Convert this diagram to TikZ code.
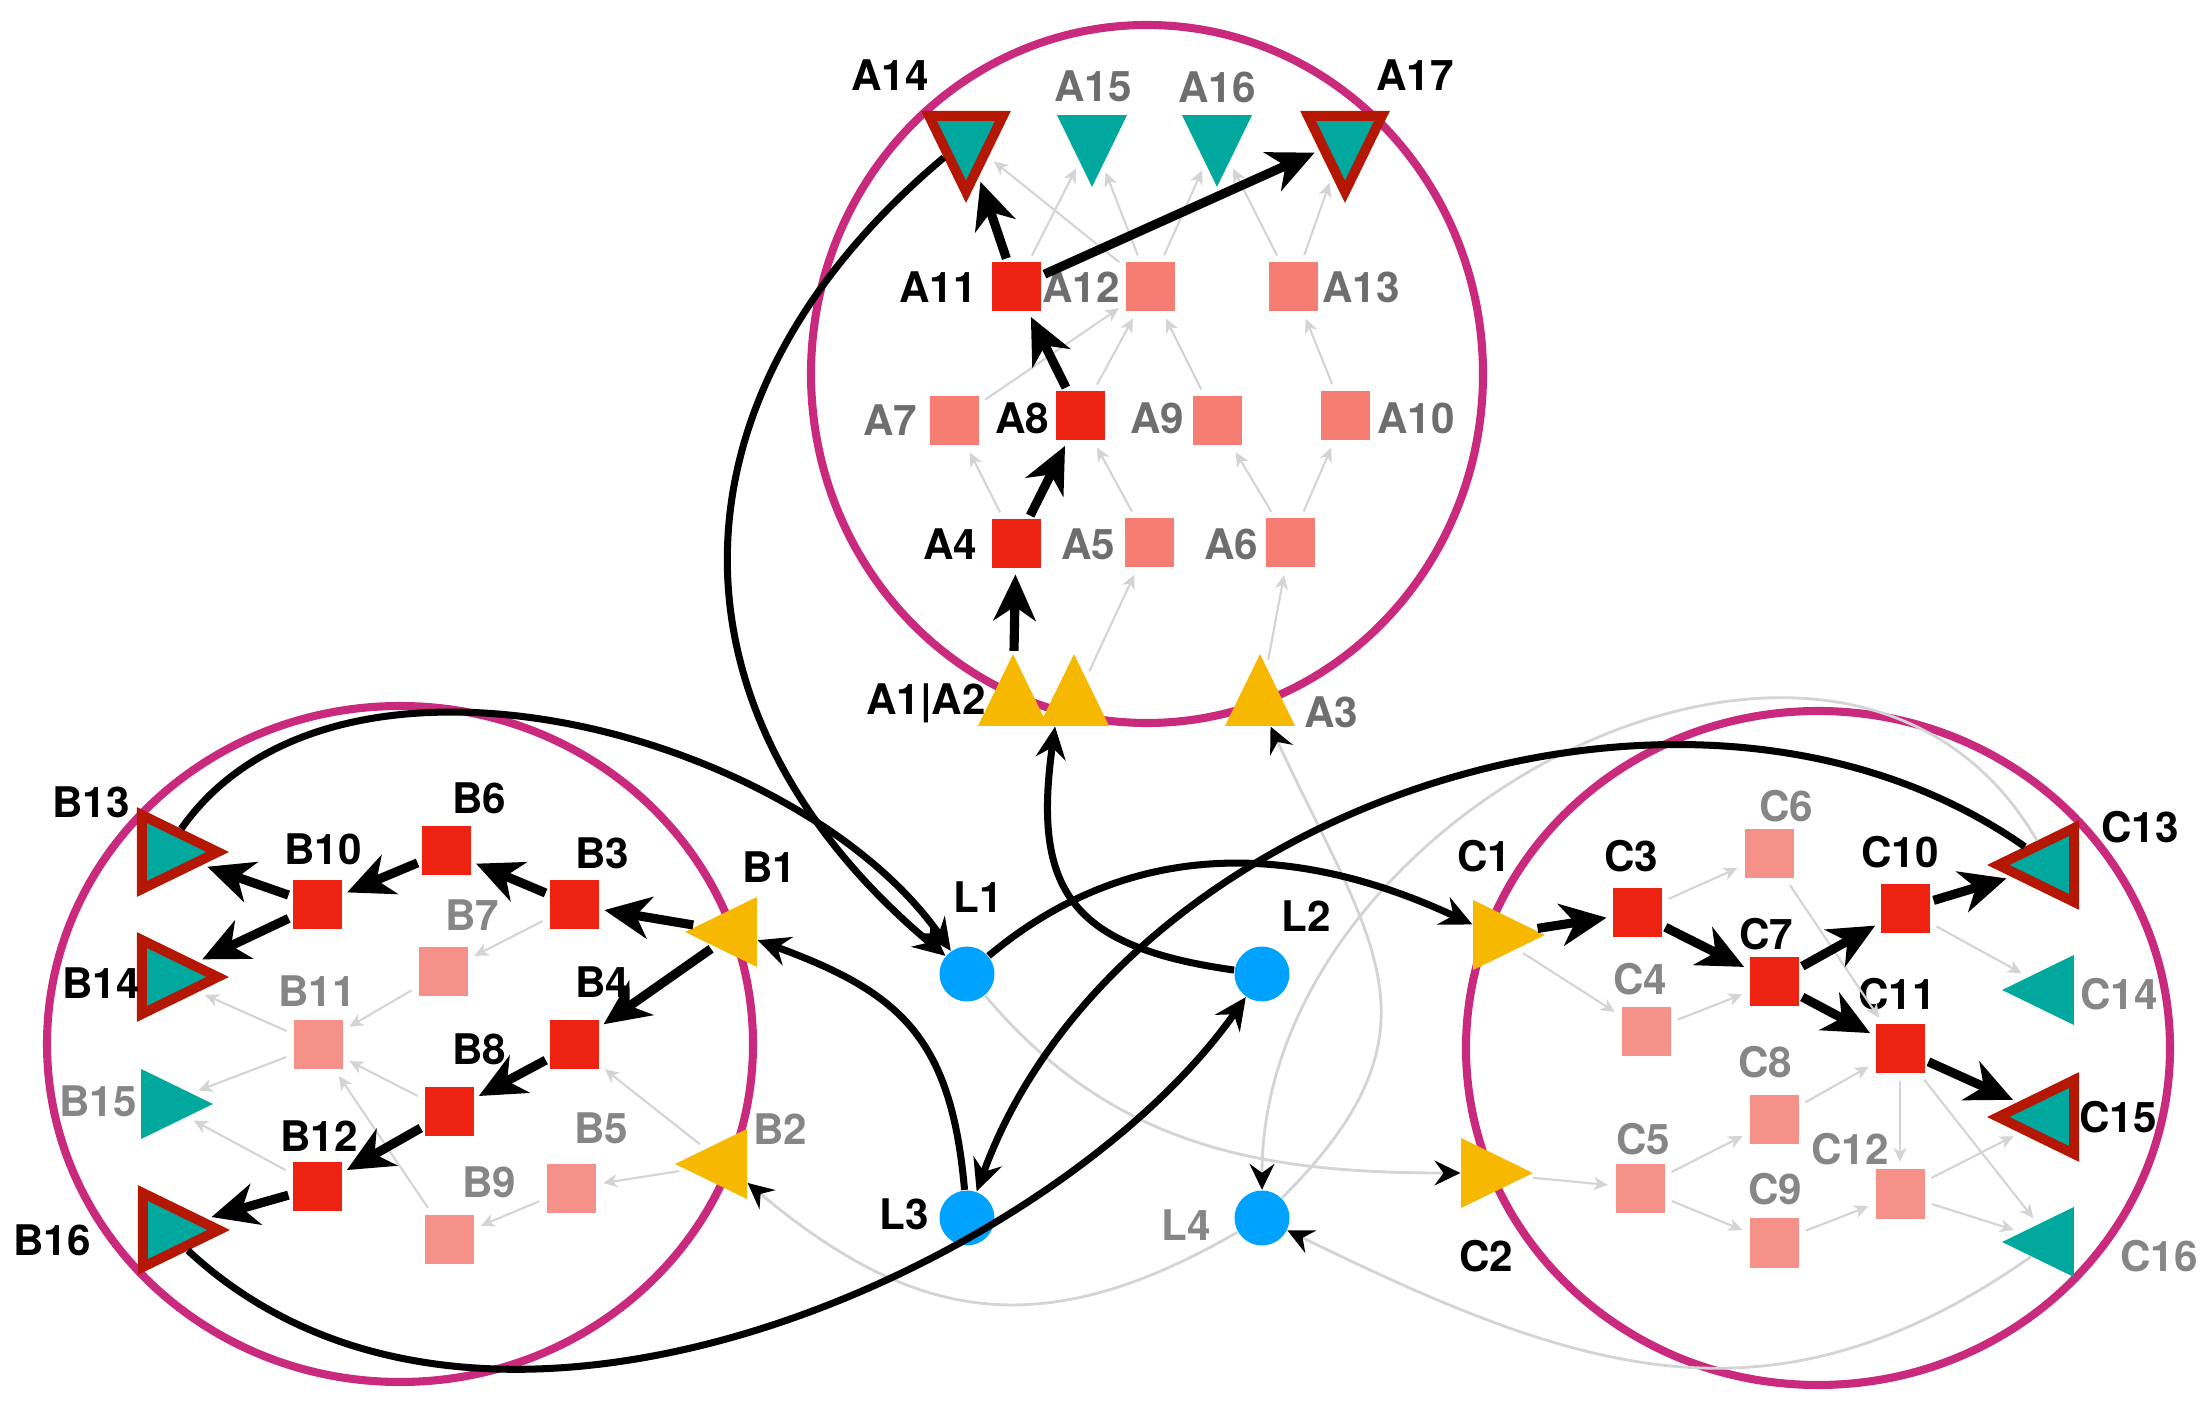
\documentclass[tikz,border=0pt]{standalone}
\usepackage{fontspec}
\setmainfont{TeX Gyre Heros}
\usetikzlibrary{shapes.geometric,arrows.meta,positioning}
\definecolor{ringpink}{RGB}{201,42,125}
\definecolor{hotred}{RGB}{238,34,17}
\definecolor{salmonA}{RGB}{245,125,114}
\definecolor{salmonB}{RGB}{246,145,138}
\definecolor{tealfill}{RGB}{0,168,157}
\definecolor{rimred}{RGB}{180,24,4}
\definecolor{ambr}{RGB}{246,184,0}
\definecolor{skyblue}{RGB}{0,162,255}
\definecolor{edgegray}{RGB}{212,212,212}
\definecolor{labgrayA}{RGB}{110,110,110}
\definecolor{labgrayB}{RGB}{134,134,134}

\tikzset{
  lab/.style={font=\fontsize{12}{14}\selectfont\bfseries, inner sep=0pt, text height=8.5pt, text depth=0pt},
  labk/.style={lab, text=black},
  laba/.style={lab, text=labgrayA},
  labb/.style={lab, text=labgrayB},
  sqon/.style={rectangle, minimum size=4.9mm, inner sep=0pt, fill=hotred},
  sqa/.style={rectangle, minimum size=4.9mm, inner sep=0pt, fill=salmonA},
  sqb/.style={rectangle, minimum size=4.9mm, inner sep=0pt, fill=salmonB},
  tri/.style={isosceles triangle, isosceles triangle apex angle=52, minimum size=7mm, inner sep=0pt},
  srctri/.style={tri, fill=ambr},
  outtri/.style={tri, fill=tealfill},
  goaltri/.style={tri, minimum size=7.4mm, fill=tealfill, draw=rimred, line width=2.8pt},
  pup/.style={shape border rotate=90},
  pdown/.style={shape border rotate=270},
  pleft/.style={shape border rotate=180},
  pright/.style={shape border rotate=0},
  loc/.style={circle, minimum size=5.5mm, inner sep=0pt, fill=skyblue},
  ring/.style={draw=ringpink, line width=2.3pt},
  weak/.style={draw=edgegray, line width=0.6pt, shorten <=2pt, shorten >=2pt, -{Stealth[length=1.4mm,width=1.3mm,inset=0.4mm]}},
  hot/.style={draw=black, line width=2.6pt, shorten <=1pt, shorten >=1.5pt, -{Stealth[length=4.6mm,width=4.2mm,inset=1.4mm]}},
  link/.style={draw=black, line width=2pt, -{Stealth[length=3.2mm,width=3mm,inset=1.1mm]}},
  faint/.style={draw=edgegray, line width=0.8pt, -{Stealth[length=2.6mm,width=2.5mm,inset=0.9mm,color=black]}}
}

\begin{document}
\begin{tikzpicture}
    \useasboundingbox (0,0) rectangle (22,14);

    % Rings
    \draw[ring] (11.47,10.26) ellipse [x radius=3.36, y radius=3.49];
    \draw[ring] (4.00,3.56) ellipse [x radius=3.53, y radius=3.38];
    \draw[ring] (18.18,3.52) ellipse [x radius=3.52, y radius=3.37];

    % Group A
    \node[goaltri,pdown] (A14) at (9.66,12.61) {};
    \node[outtri,pdown] (A15) at (10.92,12.63) {};
    \node[outtri,pdown] (A16) at (12.17,12.63) {};
    \node[goaltri,pdown] (A17) at (13.45,12.61) {};
    \node[sqon] (A11) at (10.16,11.13) {};
    \node[sqa] (A12) at (11.50,11.13) {};
    \node[sqa] (A13) at (12.93,11.13) {};
    \node[sqa] (A7) at (9.54,9.79) {};
    \node[sqon] (A8) at (10.80,9.84) {};
    \node[sqa] (A9) at (12.17,9.79) {};
    \node[sqa] (A10) at (13.45,9.84) {};
    \node[sqon] (A4) at (10.16,8.56) {};
    \node[sqa] (A5) at (11.49,8.57) {};
    \node[sqa] (A6) at (12.90,8.57) {};
    \node[srctri,pup] (A1) at (10.13,6.96) {};
    \node[srctri,pup] (A2) at (10.74,6.96) {};
    \node[srctri,pup] (A3) at (12.60,6.96) {};

    \node[labk] (tA14) at (8.90,13.24) {A14};
    \node[laba] (tA15) at (10.93,13.13) {A15};
    \node[laba] (tA16) at (12.17,13.12) {A16};
    \node[labk] (tA17) at (14.15,13.24) {A17};
    \node[labk] (tA11) at (9.38,11.12) {A11};
    \node[laba] (tA12) at (10.81,11.12) {A12};
    \node[laba] (tA13) at (13.61,11.12) {A13};
    \node[laba] (tA7) at (8.90,9.79) {A7};
    \node[labk] (tA8) at (10.22,9.81) {A8};
    \node[laba] (tA9) at (11.57,9.81) {A9};
    \node[laba] (tA10) at (14.16,9.81) {A10};
    \node[labk] (tA4) at (9.50,8.55) {A4};
    \node[laba] (tA5) at (10.88,8.55) {A5};
    \node[laba] (tA6) at (12.31,8.55) {A6};
    \node[labk] (tA12b) at (9.26,7.00) {A1|A2};
    \node[laba] (tA3) at (13.31,6.87) {A3};

    % Group B
    \node[goaltri,pright] (B13) at (1.65,5.48) {};
    \node[goaltri,pright] (B14) at (1.65,4.23) {};
    \node[outtri,pright] (B15) at (1.63,2.96) {};
    \node[goaltri,pright] (B16) at (1.66,1.70) {};
    \node[sqon] (B10) at (3.17,4.95) {};
    \node[sqon] (B6) at (4.46,5.49) {};
    \node[sqon] (B3) at (5.74,4.95) {};
    \node[sqb] (B7) at (4.43,4.28) {};
    \node[sqb] (B11) at (3.18,3.55) {};
    \node[sqon] (B4) at (5.74,3.55) {};
    \node[sqon] (B8) at (4.49,2.88) {};
    \node[sqon] (B12) at (3.17,2.13) {};
    \node[sqb] (B5) at (5.71,2.12) {};
    \node[sqb] (B9) at (4.49,1.61) {};
    \node[srctri,pleft] (B1) at (7.35,4.68) {};
    \node[srctri,pleft] (B2) at (7.25,2.36) {};

    \node[labk] (tB13) at (0.91,5.97) {B13};
    \node[labk] (tB6) at (4.79,6.01) {B6};
    \node[labk] (tB10) at (3.23,5.50) {B10};
    \node[labk] (tB3) at (6.02,5.46) {B3};
    \node[labk] (tB1) at (7.69,5.32) {B1};
    \node[labb] (tB7) at (4.72,4.84) {B7};
    \node[labk] (tB14) at (1.01,4.16) {B14};
    \node[labb] (tB11) at (3.17,4.08) {B11};
    \node[labk] (tB4) at (6.02,4.17) {B4};
    \node[labk] (tB8) at (4.79,3.50) {B8};
    \node[labb] (tB15) at (0.98,2.98) {B15};
    \node[labk] (tB12) at (3.19,2.63) {B12};
    \node[labb] (tB5) at (6.01,2.71) {B5};
    \node[labb] (tB9) at (4.89,2.17) {B9};
    \node[labk] (tB16) at (0.52,1.59) {B16};
    \node[labb] (tB2) at (7.80,2.70) {B2};

    % Group C
    \node[srctri,pright] (C1) at (14.95,4.65) {};
    \node[srctri,pright] (C2) at (14.83,2.27) {};
    \node[sqon] (C3) at (16.37,4.87) {};
    \node[sqb] (C4) at (16.46,3.68) {};
    \node[sqb] (C5) at (16.40,2.12) {};
    \node[sqb] (C6) at (17.69,5.46) {};
    \node[sqon] (C7) at (17.74,4.18) {};
    \node[sqb] (C8) at (17.74,2.80) {};
    \node[sqb] (C9) at (17.74,1.57) {};
    \node[sqon] (C10) at (19.05,4.91) {};
    \node[sqon] (C11) at (19.00,3.51) {};
    \node[sqb] (C12) at (19.00,2.06) {};
    \node[goaltri,pleft] (C13) at (20.51,5.35) {};
    \node[outtri,pleft] (C14) at (20.52,4.10) {};
    \node[goaltri,pleft] (C15) at (20.51,2.83) {};
    \node[outtri,pleft] (C16) at (20.52,1.58) {};

    \node[labk] (tC1) at (14.84,5.43) {C1};
    \node[labk] (tC3) at (16.31,5.43) {C3};
    \node[labb] (tC6) at (17.86,5.93) {C6};
    \node[labk] (tC10) at (19.00,5.47) {C10};
    \node[labk] (tC13) at (21.40,5.72) {C13};
    \node[labk] (tC7) at (17.66,4.65) {C7};
    \node[labb] (tC4) at (16.40,4.20) {C4};
    \node[labk] (tC11) at (18.97,4.05) {C11};
    \node[labb] (tC14) at (21.19,4.05) {C14};
    \node[labb] (tC8) at (17.65,3.37) {C8};
    \node[labk] (tC15) at (21.18,2.82) {C15};
    \node[labb] (tC5) at (16.43,2.60) {C5};
    \node[labb] (tC12) at (18.50,2.50) {C12};
    \node[labb] (tC9) at (17.75,2.10) {C9};
    \node[labk] (tC2) at (14.86,1.43) {C2};
    \node[labb] (tC16) at (21.59,1.43) {C16};

    % Links between groups
    \node[loc] (L1) at (9.67,4.26) {};
    \node[loc] (L2) at (12.62,4.26) {};
    \node[loc] (L3) at (9.67,1.82) {};
    \node[loc] (L4) at (12.62,1.82) {};
    \node[labk] (tL1) at (9.78,5.02) {L1};
    \node[labk] (tL2) at (13.06,4.83) {L2};
    \node[labk] (tL3) at (9.04,1.85) {L3};
    \node[labb] (tL4) at (11.86,1.74) {L4};

    % Weak edges inside groups
    \draw[weak] (A2) -- (A5);
    \draw[weak] (A3) -- (A6);
    \draw[weak] (A4) -- (A7);
    \draw[weak] (A5) -- (A8);
    \draw[weak] (A6) -- (A9);
    \draw[weak] (A6) -- (A10);
    \draw[weak] (A7) -- (A12);
    \draw[weak] (A8) -- (A12);
    \draw[weak] (A9) -- (A12);
    \draw[weak] (A10) -- (A13);
    \draw[weak] (A11) -- (A15);
    \draw[weak] (A12) -- (A14);
    \draw[weak] (A12) -- (A15);
    \draw[weak] (A12) -- (A16);
    \draw[weak] (A13) -- (A16);
    \draw[weak] (A13) -- (A17);

    \draw[weak] (B3) -- (B7);
    \draw[weak] (B7) -- (B11);
    \draw[weak] (B11) -- (B14);
    \draw[weak] (B11) -- (B15);
    \draw[weak] (B8) -- (B11);
    \draw[weak] (B9) -- (B11);
    \draw[weak] (B12) -- (B15);
    \draw[weak] (B2) -- (B4);
    \draw[weak] (B2) -- (B5);
    \draw[weak] (B5) -- (B9);

    \draw[weak] (C1) -- (C4);
    \draw[weak] (C2) -- (C5);
    \draw[weak] (C3) -- (C6);
    \draw[weak] (C4) -- (C7);
    \draw[weak] (C5) -- (C8);
    \draw[weak] (C5) -- (C9);
    \draw[weak] (C6) -- (C11);
    \draw[weak] (C8) -- (C11);
    \draw[weak] (C9) -- (C12);
    \draw[weak] (C10) -- (C14);
    \draw[weak] (C11) -- (C12);
    \draw[weak] (C11) -- (C16);
    \draw[weak] (C12) -- (C15);
    \draw[weak] (C12) -- (C16);

    % Strong edges inside groups
    \draw[hot] (A1) -- (A4);
    \draw[hot] (A4) -- (A8);
    \draw[hot] (A8) -- (A11);
    \draw[hot] (A11) -- (A14);
    \draw[hot] (A11) -- (A17);

    \draw[hot] (B1) -- (B3);
    \draw[hot] (B1) -- (B4);
    \draw[hot] (B3) -- (B6);
    \draw[hot] (B6) -- (B10);
    \draw[hot] (B10) -- (B13);
    \draw[hot] (B10) -- (B14);
    \draw[hot] (B4) -- (B8);
    \draw[hot] (B8) -- (B12);
    \draw[hot] (B12) -- (B16);

    \draw[hot] (C1) -- (C3);
    \draw[hot] (C3) -- (C7);
    \draw[hot] (C7) -- (C10);
    \draw[hot] (C7) -- (C11);
    \draw[hot] (C10) -- (C13);
    \draw[hot] (C11) -- (C15);

    % Faint links
    \draw[faint] (L1) to[out=-50,in=180] (C2);
    \draw[faint] (L4) to[out=210,in=-40,looseness=1.15] (B2);
    \draw[faint] (C16) to[out=215,in=-26,looseness=1.1] (L4);
    \draw[faint] (C13) to[out=120,in=90,looseness=1.15] (L4);
    \draw[faint] (L4) to[out=45,in=-65,looseness=1.3] (A3);

    % Strong links
    \draw[link] (A14) to[out=220,in=140,looseness=1.2] (L1);
    \draw[link] (B13) to[out=55,in=125,looseness=0.88] (L1);
    \draw[link] (L1) to[out=40,in=155] (C1);
    \draw[link] (L2) to[out=172,in=-98,looseness=1.4] (A2.-130);
    \draw[link] (L3) to[out=95,in=-20,looseness=1.2] (B1);
    \draw[link] (C13) to[out=145,in=70,looseness=0.95] (L3);
    \draw[link] (B16) .. controls +(-43:4.4) and +(-125:3.5) .. (L2);
\end{tikzpicture}
\end{document}
